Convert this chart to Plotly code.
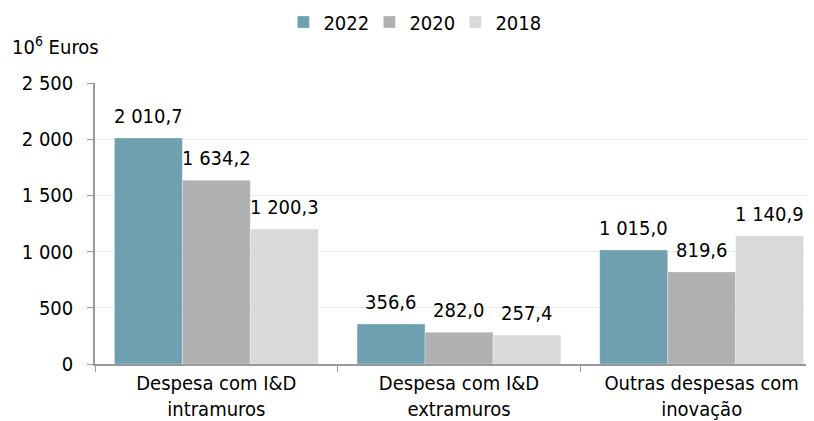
import plotly.graph_objects as go

categories = ["Despesa com I&D<br>intramuros", "Despesa com I&D<br>extramuros", "Outras despesas com<br>inovação"]
v2022 = [2010.7, 356.6, 1015.0]
v2020 = [1634.2, 282.0, 819.6]
v2018 = [1200.3, 257.4, 1140.9]

series = [("2022", v2022, "#6fa0af"), ("2020", v2020, "#b0b0b0"), ("2018", v2018, "#d9d9d9")]
fnt = "DejaVu Sans Condensed"
fs = 20

fig = go.Figure()
for name, vals, col in series:
    fig.add_trace(go.Bar(
        x=categories, y=vals, name=name,
        marker=dict(color=col, line=dict(color="rgba(255,255,255,0.6)", width=0.5)),
    ))

# value labels above bars (offset to each bar of the group)
bar_px = 68
for i, (name, vals, col) in enumerate(series):
    for cat, v in zip(categories, vals):
        fig.add_annotation(x=cat, y=v, xref="x", yref="y", showarrow=False,
                           text=f"{v:,.1f}".replace(",", " ").replace(".", ","),
                           xshift=(i - 1) * bar_px, yanchor="bottom", yshift=8,
                           font=dict(family=fnt, size=fs, color="black"))

fig.update_layout(
    width=806, height=413,
    barmode="group", bargap=0.16, bargroupgap=0,
    separators=", ",
    font=dict(family=fnt, size=fs, color="black"),
    plot_bgcolor="white", paper_bgcolor="white",
    margin=dict(l=87, r=0, t=75, b=57, autoexpand=False),
    legend=dict(orientation="h", x=0.262, xanchor="left", y=1.217, yanchor="middle",
                font=dict(family=fnt, size=fs), itemwidth=30, traceorder="normal",
                entrywidth=41, entrywidthmode="pixels"),
)
fig.add_annotation(text="10<sup>6</sup> Euros", x=-0.118, xref="paper", xanchor="left",
                   y=1.132, yref="paper", yanchor="middle", showarrow=False,
                   font=dict(family=fnt, size=fs))

fig.update_yaxes(range=[0, 2500], dtick=500, tickformat=",", showgrid=True,
                 gridcolor="#ececec", gridwidth=1, showline=True, linecolor="#999999",
                 linewidth=1.5, ticks="outside", ticklen=6, tickcolor="#999999",
                 zeroline=False, ticklabelstandoff=10)
fig.update_xaxes(range=[-0.5, 2.463], showline=True, linecolor="#999999", linewidth=1.5,
                 ticks="outside", tickson="boundaries", ticklen=6, tickcolor="#999999")

fig.write_html("out.html")
